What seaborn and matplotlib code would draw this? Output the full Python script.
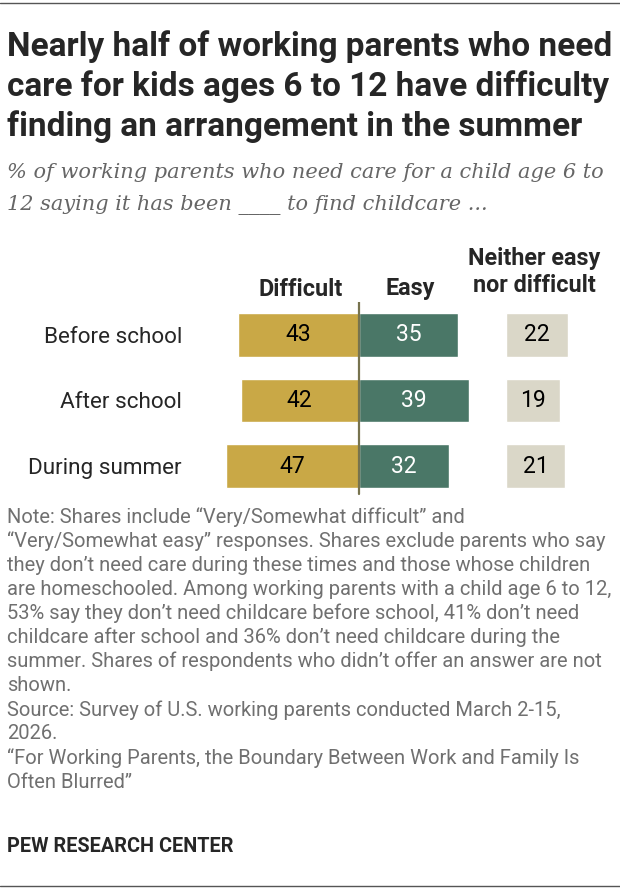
import pandas as pd
import matplotlib.pyplot as plt
import seaborn as sns

# datos
periods = ["Before school", "After school", "During summer"]
difficult = [43, 42, 47]
easy = [35, 39, 32]
neither = [22, 19, 21]

title_lines = ["Nearly half of working parents who need",
               "care for kids ages 6 to 12 have difficulty",
               "finding an arrangement in the summer"]
subtitle_lines = ["% of working parents who need care for a child age 6 to",
                  "12 saying it has been ____ to find childcare ..."]
note_lines = ["Note: Shares include \u201cVery/Somewhat difficult\u201d and",
              "\u201cVery/Somewhat easy\u201d responses. Shares exclude parents who say",
              "they don\u2019t need care during these times and those whose children",
              "are homeschooled. Among working parents with a child age 6 to 12,",
              "53% say they don\u2019t need childcare before school, 41% don\u2019t need",
              "childcare after school and 36% don\u2019t need childcare during the",
              "summer. Shares of respondents who didn\u2019t offer an answer are not",
              "shown.",
              "Source: Survey of U.S. working parents conducted March 2-15,",
              "2026.",
              "\u201cFor Working Parents, the Boundary Between Work and Family Is",
              "Often Blurred\u201d"]

COL_DIFF = "#C9A846"
COL_EASY = "#4A7767"
COL_NEITHER = "#DAD7C8"
SANS = ["Roboto", "DejaVu Sans"]

df = pd.DataFrame({"period": periods, "difficult": difficult,
                   "easy": easy, "neither": neither})
df["difficult_neg"] = -df["difficult"]

sns.set_style("white")
plt.rcParams["font.family"] = SANS

W, H = 620, 894
fig = plt.figure(figsize=(W / 100, H / 100), dpi=100)

def fx(px):
    return px / W

def fy(px):
    return 1 - px / H

scale = 2.82  # px por punto porcentual
top, bottom = 302, 499
ax1 = fig.add_axes([fx(218), fy(bottom), fx(282), (bottom - top) / H])
ax2 = fig.add_axes([fx(506), fy(bottom), fx(100), (bottom - top) / H])

sns.barplot(data=df, x="difficult_neg", y="period", order=periods,
            color=COL_DIFF, width=0.67, saturation=1, ax=ax1)
sns.barplot(data=df, x="easy", y="period", order=periods,
            color=COL_EASY, width=0.67, saturation=1, ax=ax1)
sns.barplot(data=df, x="neither", y="period", order=periods,
            color=COL_NEITHER, width=0.67, saturation=1, ax=ax2)

ax1.set_xlim(-141 / scale, 141 / scale)
ax2.set_xlim(0, 100 / scale)

lbl = dict(label_type="center", fontsize=16.5)
ax1.bar_label(ax1.containers[0], labels=[str(v) for v in difficult],
              color="black", **lbl)
ax1.bar_label(ax1.containers[1], labels=[str(v) for v in easy],
              color="white", **lbl)
ax2.bar_label(ax2.containers[0], labels=[str(v) for v in neither],
              color="black", **lbl)

ax1.axvline(0, ymin=0.025, ymax=1, color="#77734E", lw=1.6)

for ax in (ax1, ax2):
    ax.set_xlabel("")
    ax.set_ylabel("")
    ax.set_xticks([])
    sns.despine(ax=ax, left=True, bottom=True)
ax1.tick_params(axis="y", length=0, pad=26, labelsize=16.2)
ax2.set_yticks([])

# cabeceras de columnas
hdr = dict(fontsize=16.8, fontweight="bold", ha="center", va="center")
fig.text(fx(301), fy(289), "Difficult", **hdr)
fig.text(fx(410), fy(288), "Easy", **hdr)
fig.text(fx(534), fy(259), "Neither easy", **hdr)
fig.text(fx(534), fy(286), "nor difficult", **hdr)

# titulo
for i, line in enumerate(title_lines):
    fig.text(fx(7), fy(47 + 40 * i), line, fontsize=24, fontweight="bold",
             va="center", ha="left")
for i, line in enumerate(subtitle_lines):
    fig.text(fx(7), fy(172 + 33 * i), line, fontsize=15, style="italic",
             family=["DejaVu Serif"], color="#666666", va="center", ha="left")

for i, line in enumerate(note_lines):
    fig.text(fx(7), fy(517 + 24.1 * i), line, fontsize=14.5, color="#707070",
             va="center", ha="left")

fig.text(fx(7), fy(846), "PEW RESEARCH CENTER", fontsize=14.3,
         fontweight="bold", va="center", ha="left")

fig.add_artist(plt.Line2D([0, 1], [fy(3), fy(3)], color="#555555", lw=1))
fig.add_artist(plt.Line2D([0, 1], [fy(886), fy(886)], color="#555555", lw=1))

fig.savefig("out.png", dpi=100)
